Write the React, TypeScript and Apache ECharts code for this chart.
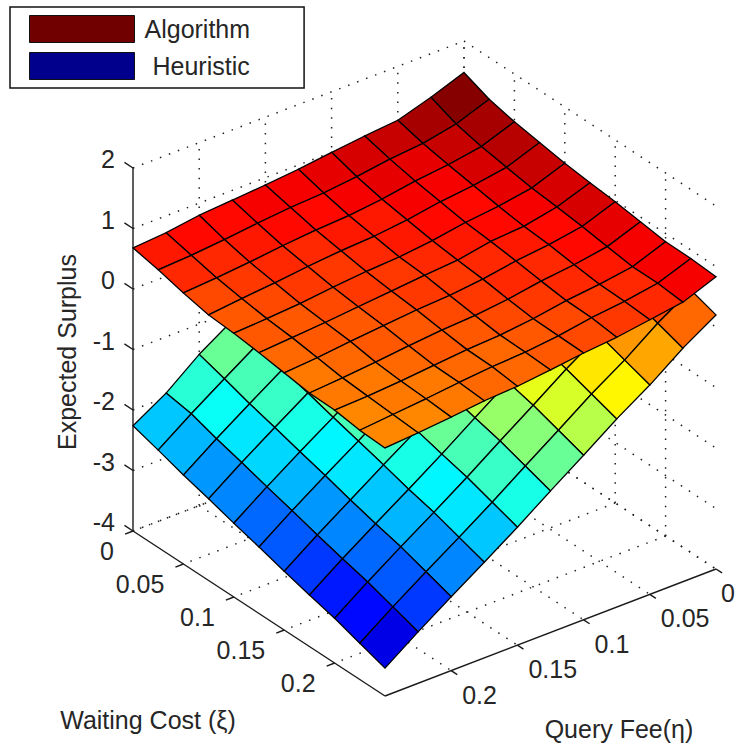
import React, { useEffect, useRef } from "react";
import * as echarts from "echarts";

const waitingTicks = [0, 0.05, 0.1, 0.15, 0.2];
const queryTicks = [0, 0.05, 0.1, 0.15, 0.2];
const surplusTicks = [-4, -3, -2, -1, 0, 1, 2];
const waitingGrid = [0, 0.025, 0.05, 0.075, 0.1, 0.125, 0.15, 0.175, 0.2, 0.225, 0.25];
const queryGrid = [0, 0.025, 0.05, 0.075, 0.1, 0.125, 0.15, 0.175, 0.2, 0.225, 0.25];

// rows: waiting cost index, columns: query fee index
const algorithmSurplus = [
  [1.48, 1.28, 1.11, 1.06, 1.0, 0.93, 0.88, 0.84, 0.8, 0.72, 0.68],
  [1.31, 1.11, 1.0, 0.95, 0.87, 0.81, 0.78, 0.73, 0.67, 0.62, 0.59],
  [1.21, 1.01, 0.92, 0.86, 0.77, 0.71, 0.68, 0.63, 0.57, 0.52, 0.48],
  [1.14, 0.94, 0.85, 0.79, 0.7, 0.64, 0.61, 0.56, 0.5, 0.45, 0.39],
  [1.07, 0.87, 0.78, 0.72, 0.63, 0.57, 0.54, 0.49, 0.43, 0.39, 0.36],
  [1.02, 0.83, 0.72, 0.68, 0.58, 0.54, 0.49, 0.44, 0.39, 0.35, 0.31],
  [0.98, 0.78, 0.69, 0.63, 0.54, 0.48, 0.45, 0.4, 0.35, 0.29, 0.25],
  [0.92, 0.72, 0.63, 0.57, 0.48, 0.42, 0.39, 0.34, 0.28, 0.23, 0.19],
  [0.865, 0.66, 0.58, 0.52, 0.43, 0.37, 0.34, 0.29, 0.24, 0.2, 0.18],
  [0.86, 0.66, 0.57, 0.51, 0.42, 0.36, 0.33, 0.28, 0.22, 0.17, 0.12],
  [0.83, 0.62, 0.54, 0.46, 0.41, 0.34, 0.28, 0.25, 0.19, 0.14, 0.1],
];

const heuristicSurplus = [
  [1.3, 1.14, 0.74, 0.39, 0.0, -0.38, -0.77, -1.15, -1.5, -1.93, -2.26],
  [1.2, 1.01, 0.61, 0.26, -0.13, -0.51, -0.9, -1.27, -1.63, -2.0, -2.39],
  [1.1, 0.87, 0.47, 0.12, -0.27, -0.65, -1.04, -1.41, -1.77, -2.14, -2.53],
  [1.0, 0.75, 0.35, 0.0, -0.39, -0.77, -1.16, -1.53, -1.89, -2.26, -2.65],
  [0.93, 0.62, 0.22, -0.13, -0.52, -0.9, -1.29, -1.66, -2.02, -2.39, -2.78],
  [0.84, 0.5, 0.1, -0.25, -0.64, -1.02, -1.41, -1.78, -2.14, -2.51, -2.9],
  [0.72, 0.38, -0.03, -0.38, -0.77, -1.15, -1.54, -1.9, -2.27, -2.64, -3.03],
  [0.59, 0.25, -0.15, -0.5, -0.89, -1.27, -1.66, -2.03, -2.39, -2.76, -3.15],
  [0.48, 0.14, -0.26, -0.61, -1.0, -1.38, -1.77, -2.14, -2.5, -2.87, -3.26],
  [0.34, 0.0, -0.4, -0.75, -1.14, -1.52, -1.91, -2.28, -2.64, -3.01, -3.4],
  [0.2, -0.14, -0.54, -0.89, -1.28, -1.66, -2.05, -2.42, -2.78, -3.15, -3.54],
];

const FONT = '"Liberation Sans", Arial, sans-serif';
const TEXT = "#262626";
const C_MIN = -3.54;
const C_MAX = 1.48;
const W_MAX = 0.25;
const Q_MAX = 0.25;
const Z_MIN = -4;
const Z_MAX = 2;
const PAGE_W = 736;

// view projection of the 3-D box onto the page
const project = (w: number, q: number, z: number): number[] => [
  464 + (w / W_MAX) * 252 - (q / Q_MAX) * 331,
  404 + (w / W_MAX) * 165 + (q / Q_MAX) * 127 - (z - Z_MIN) * 60.5,
];

const clip01 = (v: number) => Math.max(0, Math.min(1, v));
const jet = (z: number): string => {
  const raw = clip01((z - C_MIN) / (C_MAX - C_MIN));
  const t = (Math.min(63, Math.floor(raw * 64)) + 0.5) / 64;
  const r = clip01(Math.min(4 * t - 1.5, -4 * t + 4.5));
  const g = clip01(Math.min(4 * t - 0.5, -4 * t + 3.5));
  const b = clip01(Math.min(4 * t + 0.5, -4 * t + 2.5));
  return `rgb(${Math.round(r * 255)},${Math.round(g * 255)},${Math.round(b * 255)})`;
};

type Seg = { a: number[]; b: number[] };

const dotted: Seg[] = [];
for (const z of surplusTicks) {
  dotted.push({ a: [0, Q_MAX, z], b: [0, 0, z] });
  dotted.push({ a: [0, 0, z], b: [W_MAX, 0, z] });
}
for (const q of queryTicks) {
  dotted.push({ a: [0, q, Z_MIN], b: [0, q, Z_MAX] });
  dotted.push({ a: [0, q, Z_MIN], b: [W_MAX, q, Z_MIN] });
}
for (const w of waitingTicks) {
  dotted.push({ a: [w, 0, Z_MIN], b: [w, 0, Z_MAX] });
  dotted.push({ a: [w, 0, Z_MIN], b: [w, Q_MAX, Z_MIN] });
}

const solid: Seg[] = [
  { a: [0, Q_MAX, Z_MIN], b: [0, Q_MAX, Z_MAX] },
  { a: [0, Q_MAX, Z_MIN], b: [W_MAX, Q_MAX, Z_MIN] },
  { a: [W_MAX, Q_MAX, Z_MIN], b: [W_MAX, 0, Z_MIN] },
];
for (const z of surplusTicks) solid.push({ a: [0, Q_MAX, z], b: [-0.0085, Q_MAX, z] });
for (const w of waitingTicks) solid.push({ a: [w, Q_MAX, Z_MIN], b: [w, Q_MAX + 0.006, Z_MIN] });
for (const q of queryTicks) solid.push({ a: [W_MAX, q, Z_MIN], b: [W_MAX + 0.006, q, Z_MIN] });

type Lab = { text: string; at: number[]; dx: number; dy: number; align: string };
const labels: Lab[] = [
  ...surplusTicks.map((z) => ({ text: String(z), at: [0, Q_MAX, z], dx: -18, dy: -9, align: "right" })),
  ...waitingTicks.map((w) => ({ text: String(w), at: [w, Q_MAX, Z_MIN], dx: -19, dy: 20, align: "right" })),
  ...queryTicks.map((q) => ({ text: String(q), at: [W_MAX, q, Z_MIN], dx: 11, dy: 24, align: "left" })),
];

const cells: number[][] = [];
for (let i = 0; i < waitingGrid.length - 1; i++) {
  for (let j = 0; j < queryGrid.length - 1; j++) cells.push([i, j]);
}

const surfaceSeries = (name: string, table: number[][], legendColor: string, z: number) => ({
  name,
  type: "custom",
  coordinateSystem: "cartesian2d",
  silent: true,
  clip: false,
  z,
  itemStyle: { color: legendColor },
  data: cells,
  renderItem: (params: any, api: any) => {
    const [i, j] = cells[params.dataIndex];
    const pts = [
      [i, j],
      [i + 1, j],
      [i + 1, j + 1],
      [i, j + 1],
    ].map(([a, b]) => api.coord(project(waitingGrid[a], queryGrid[b], table[a][b])));
    return {
      type: "polygon",
      shape: { points: pts },
      style: { fill: jet(table[i][j]), stroke: "#000", lineWidth: 1.3 },
    };
  },
});

const segmentSeries = (segs: Seg[], style: any, z: number) => ({
  type: "custom",
  coordinateSystem: "cartesian2d",
  silent: true,
  clip: false,
  z,
  data: segs.map((_, k) => [k, k]),
  renderItem: (params: any, api: any) => {
    const s = segs[params.dataIndex];
    return {
      type: "polyline",
      shape: { points: [api.coord(project(s.a[0], s.a[1], s.a[2])), api.coord(project(s.b[0], s.b[1], s.b[2]))] },
      style: { fill: "none", ...style },
    };
  },
});

export default function App() {
  const ref = useRef<HTMLDivElement>(null);
  useEffect(() => {
    const chart = echarts.init(ref.current!, undefined, { renderer: "svg" });
    chart.setOption({
      animation: false,
      backgroundColor: "#fff",
      tooltip: { show: false },
      grid: { left: 0, right: 0, top: 0, bottom: 0 },
      xAxis: { type: "value", min: 0, max: PAGE_W, show: false },
      yAxis: { type: "value", min: 0, max: 745, inverse: true, show: false },
      legend: {
        left: 10,
        top: 7,
        orient: "vertical",
        padding: [8, 54, 8, 19],
        itemWidth: 105,
        itemHeight: 27,
        itemGap: 9,
        borderColor: "#111",
        borderWidth: 1.5,
        selectedMode: false,
        textStyle: { fontFamily: FONT, fontSize: 25, color: TEXT },
        data: [
          {
            name: "Algorithm",
            icon: "rect",
            itemStyle: { color: "#700000", borderColor: "#111", borderWidth: 1 },
            textStyle: { fontFamily: FONT, fontSize: 25, color: TEXT, padding: [0, 0, 0, 5] },
          },
          {
            name: "Heuristic",
            icon: "rect",
            itemStyle: { color: "#00008c", borderColor: "#111", borderWidth: 1 },
            textStyle: { fontFamily: FONT, fontSize: 25, color: TEXT, padding: [0, 0, 0, 13] },
          },
        ],
      },
      graphic: [
        {
          type: "text",
          x: 67,
          y: 352,
          rotation: Math.PI / 2,
          style: { text: "Expected Surplus", font: `25px ${FONT}`, fill: TEXT, align: "center", verticalAlign: "middle" },
        },
        {
          type: "text",
          x: 148,
          y: 720,
          style: { text: "Waiting Cost (ξ)", font: `25px ${FONT}`, fill: TEXT, align: "center", verticalAlign: "middle" },
        },
        {
          type: "text",
          x: 619,
          y: 729,
          style: { text: "Query Fee(η)", font: `25px ${FONT}`, fill: TEXT, align: "center", verticalAlign: "middle" },
        },
      ],
      series: [
        segmentSeries(dotted, { stroke: "#222", lineWidth: 1.5, lineDash: [1.5, 8.1] }, 1),
        segmentSeries(solid, { stroke: "#1a1a1a", lineWidth: 1.4 }, 2),
        surfaceSeries("Heuristic", heuristicSurplus, "#00008c", 3),
        surfaceSeries("Algorithm", algorithmSurplus, "#700000", 4),
        {
          type: "custom",
          coordinateSystem: "cartesian2d",
          silent: true,
          clip: false,
          z: 5,
          data: labels.map((_, k) => [k, k]),
          renderItem: (params: any, api: any) => {
            const l = labels[params.dataIndex];
            const p = api.coord(project(l.at[0], l.at[1], l.at[2]));
            return {
              type: "text",
              // keep the rightmost tick label inside the page
              x: Math.min(p[0] + l.dx, l.align === "left" ? PAGE_W - 15 - (l.text.length - 1) * 14 : PAGE_W),
              y: p[1] + l.dy,
              style: { text: l.text, font: `25px ${FONT}`, fill: TEXT, align: l.align, verticalAlign: "middle" },
            };
          },
        },
      ],
    });
    return () => chart.dispose();
  }, []);
  return (
    <div
      ref={ref}
      style={{ position: "absolute", left: 0, top: 0, width: PAGE_W, height: 745, overflow: "hidden" }}
    />
  );
}
